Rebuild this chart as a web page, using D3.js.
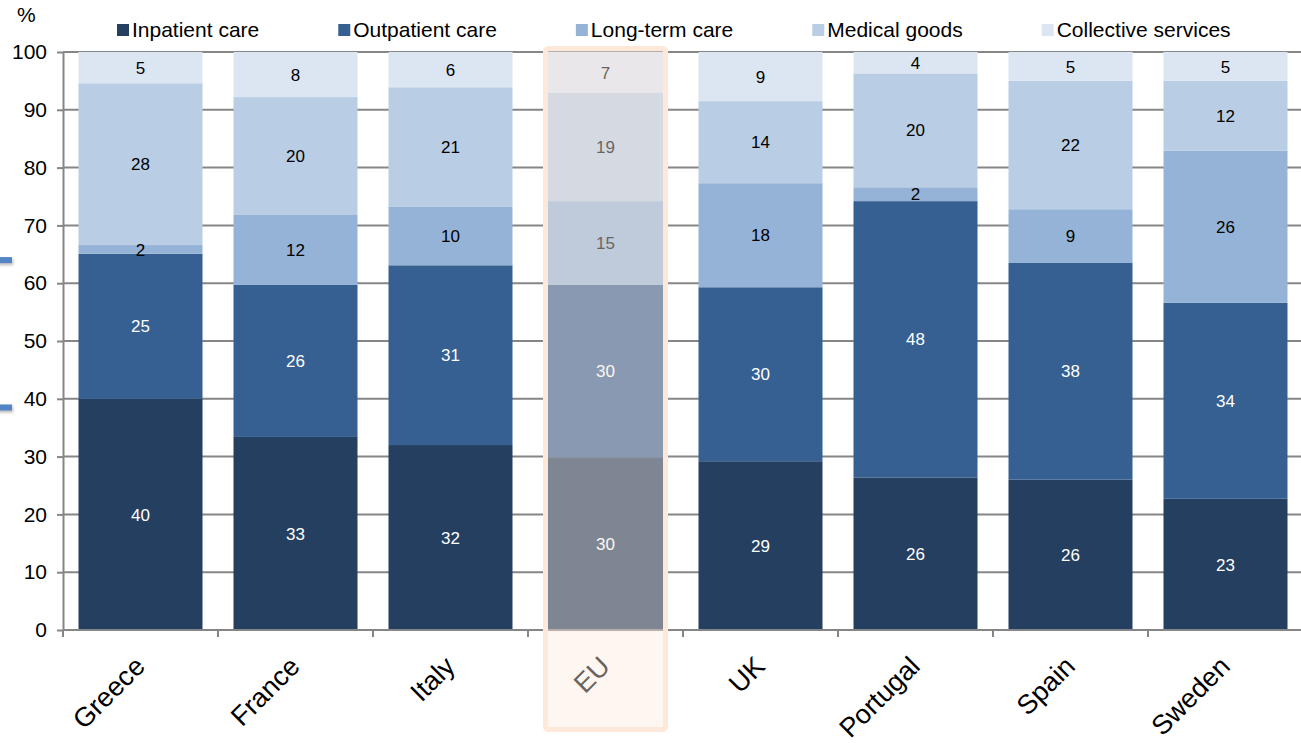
<!DOCTYPE html>
<html>
<head>
<meta charset="utf-8">
<script src="https://cdn.jsdelivr.net/npm/d3@7"></script>
<style>
  html, body { margin: 0; padding: 0; background: #fff; }
  svg { display: block; font-family: "Liberation Sans", Arial, sans-serif; }
</style>
</head>
<body>
<svg id="chart" width="1301" height="743"></svg>
<script>
// ---- data ----
const categories = ["Greece", "France", "Italy", "EU", "UK", "Portugal", "Spain", "Sweden"];
const seriesNames = ["Inpatient care", "Outpatient care", "Long-term care", "Medical goods", "Collective services"];
const inpatient  = [40.0, 33.4, 32.0, 29.9, 29.2, 26.4, 26.0, 22.7];
const outpatient = [25.1, 26.3, 31.1, 29.8, 30.1, 47.8, 37.5, 33.9];
const longTerm   = [1.5, 12.1, 10.1, 14.5, 18.0, 2.4, 9.3, 26.3];
const medical    = [28.0, 20.4, 20.7, 18.7, 14.2, 19.7, 22.2, 12.1];
const collective = [5.4, 7.8, 6.1, 7.1, 8.5, 3.7, 5.0, 5.0];
const yTicks = [0, 10, 20, 30, 40, 50, 60, 70, 80, 90, 100];
const highlighted = "EU";

const seriesColors = ["#253f60", "#366092", "#95b3d7", "#b9cde5", "#dce6f2"];
const labelColors  = ["#ffffff", "#ffffff", "#000000", "#000000", "#000000"];

const seriesValues = [inpatient, outpatient, longTerm, medical, collective];
const rows = categories.map((c, i) => {
  const r = { category: c };
  seriesNames.forEach((s, j) => r[s] = seriesValues[j][i]);
  return r;
});
const stacked = d3.stack().keys(seriesNames)(rows);

// ---- layout ----
const svg = d3.select("#chart");
const x0 = 63, x1 = 1303, yTop = 52, yBot = 630;
const x = d3.scaleBand().domain(categories).range([x0, x1]).paddingInner(0.2).paddingOuter(0.1);
const y = d3.scaleLinear().domain([0, 100]).range([yBot, yTop]);
const axisGray = "#868686";

// gridlines
svg.append("g").selectAll("line").data(yTicks.filter(t => t > 0)).join("line")
  .attr("x1", x0).attr("x2", 1301)
  .attr("y1", d => y(d)).attr("y2", d => y(d))
  .attr("stroke", axisGray).attr("stroke-width", 2);

// bars
const layers = svg.append("g").selectAll("g").data(stacked).join("g")
  .attr("fill", (d, i) => seriesColors[i]);
layers.selectAll("rect").data(d => d).join("rect")
  .attr("x", d => x(d.data.category))
  .attr("width", x.bandwidth())
  .attr("y", d => y(d[1]))
  .attr("height", d => y(d[0]) - y(d[1]));

// value labels
const labelLayers = svg.append("g").selectAll("g").data(stacked).join("g")
  .attr("fill", (d, i) => labelColors[i]);
labelLayers.selectAll("text").data(d => d).join("text")
  .attr("x", d => x(d.data.category) + x.bandwidth() / 2)
  .attr("y", d => (y(d[0]) + y(d[1])) / 2)
  .attr("dy", "0.36em")
  .attr("text-anchor", "middle")
  .attr("font-size", 17)
  .text(d => Math.round(d[1] - d[0]));

// y axis
const yAxis = svg.append("g").attr("transform", `translate(${x0},0)`)
  .call(d3.axisLeft(y).tickValues(yTicks).tickSize(6).tickPadding(10).tickSizeOuter(0));
yAxis.select(".domain").attr("stroke", axisGray).attr("stroke-width", 2);
yAxis.selectAll(".tick line").attr("stroke", axisGray).attr("stroke-width", 2);
yAxis.selectAll(".tick text").attr("font-size", 21).attr("fill", "#000")
  .attr("font-family", "Liberation Sans, Arial, sans-serif");

// x axis line + boundary ticks
svg.append("line").attr("x1", x0).attr("x2", 1301).attr("y1", yBot).attr("y2", yBot)
  .attr("stroke", axisGray).attr("stroke-width", 2);
const boundaries = d3.range(categories.length + 1).map(i => x0 + i * x.step());
svg.append("g").selectAll("line").data(boundaries).join("line")
  .attr("x1", d => d).attr("x2", d => d).attr("y1", yBot).attr("y2", yBot + 7)
  .attr("stroke", axisGray).attr("stroke-width", 2);

// x labels
svg.append("g").selectAll("text").data(categories).join("text")
  .attr("transform", d => `translate(${x(d) + x.bandwidth() / 2 + 6},668) rotate(-45)`)
  .attr("text-anchor", "end")
  .attr("font-size", 27)
  .attr("fill", "#000")
  .text(d => d);

// highlight box for EU
const hb = x(highlighted);
const hx = hb + 2, hw = x.bandwidth() - 4;
svg.append("rect")
  .attr("x", hx).attr("y", 48.5).attr("width", hw).attr("height", 681)
  .attr("fill", "rgb(250,234,222)").attr("fill-opacity", 0.42);
svg.append("rect")
  .attr("x", hx).attr("y", 48.5).attr("width", hw).attr("height", 681)
  .attr("rx", 3)
  .attr("fill", "none").attr("stroke", "#fde8da").attr("stroke-width", 5);

// legend
const legend = svg.append("g");
let lx = 117;
seriesNames.forEach((s, i) => {
  const g = legend.append("g").attr("transform", `translate(${lx},0)`);
  g.append("rect").attr("x", 0).attr("y", 24).attr("width", 12).attr("height", 12)
    .attr("fill", seriesColors[i]);
  const t = g.append("text").attr("x", 15).attr("y", 37)
    .attr("font-size", 21).attr("fill", "#000").text(s);
  lx += 15 + t.node().getComputedTextLength() + 79;
});

// unit label
svg.append("text").attr("x", 17).attr("y", 22).attr("font-size", 21).attr("fill", "#000").text("%");

// partial blue bracket at the left edge
const defs = svg.append("defs");
const f = defs.append("filter").attr("id", "sh").attr("x", "-50%").attr("y", "-100%").attr("width", "200%").attr("height", "400%");
f.append("feDropShadow").attr("dx", 1).attr("dy", 2).attr("stdDeviation", 1.5).attr("flood-color", "#888").attr("flood-opacity", 0.6);
const bracketYs = [64, 38.5];
svg.append("g").selectAll("rect").data(bracketYs).join("rect")
  .attr("x", -5).attr("y", d => y(d) - 3).attr("width", 17).attr("height", 6)
  .attr("fill", "#5284c4").attr("filter", "url(#sh)");
</script>
</body>
</html>
